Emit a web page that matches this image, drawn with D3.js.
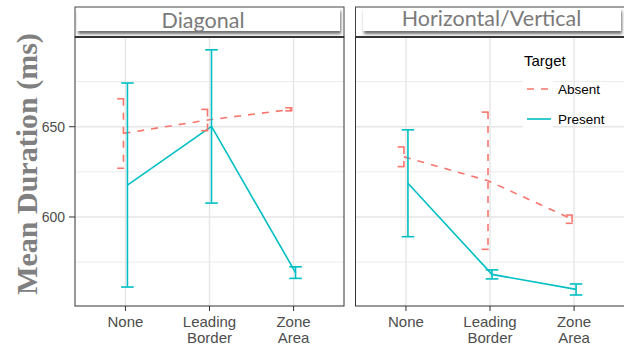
<!DOCTYPE html>
<html><head><meta charset="utf-8">
<script src="https://cdn.jsdelivr.net/npm/d3@7"></script>
<style>body{margin:0;background:#fff}svg{display:block}</style>
</head><body>
<script>
const panels = ["Diagonal", "Horizontal/Vertical"];
const categories = ["None", "Leading\nBorder", "Zone\nArea"];
const targets = ["Absent", "Present"];
// mean, lower, upper per panel per target
const diagAbsentMean = [646.3, 653.7, 659.6];
const diagAbsentLow = [627.0, 647.8, 658.8];
const diagAbsentHigh = [665.5, 659.6, 660.5];
const diagPresentMean = [617.7, 650.2, 569.2];
const diagPresentLow = [561.2, 607.7, 566.0];
const diagPresentHigh = [674.2, 692.6, 572.4];
const hvAbsentMean = [633.3, 620.1, 598.8];
const hvAbsentLow = [627.9, 582.1, 596.5];
const hvAbsentHigh = [638.8, 658.1, 601.1];
const hvPresentMean = [618.7, 568.2, 559.9];
const hvPresentLow = [589.1, 565.7, 556.8];
const hvPresentHigh = [648.3, 570.7, 562.9];
const yTicks = [600, 650];
const yMinor = [575, 625, 675];
const yDomain = [550.7, 699.7];

const series = [
  {panel: 0, target: "Absent", mean: diagAbsentMean, lo: diagAbsentLow, hi: diagAbsentHigh},
  {panel: 0, target: "Present", mean: diagPresentMean, lo: diagPresentLow, hi: diagPresentHigh},
  {panel: 1, target: "Absent", mean: hvAbsentMean, lo: hvAbsentLow, hi: hvAbsentHigh},
  {panel: 1, target: "Present", mean: hvPresentMean, lo: hvPresentLow, hi: hvPresentHigh}
];

const W = 624, H = 347;
const color = d3.scaleOrdinal().domain(targets).range(["#F8766D", "#00BFC4"]);
const dash = {Absent: "7,7", Present: null};
const dodge = d3.scalePoint().domain(targets).range([-2, 2]);

const svg = d3.select("body").append("svg").attr("width", W).attr("height", H);
const defs = svg.append("defs");
const f = defs.append("filter").attr("id", "sh").attr("x", "-10%").attr("y", "-30%").attr("width", "120%").attr("height", "170%");
f.append("feDropShadow").attr("dx", 1).attr("dy", 3).attr("stdDeviation", 1.6).attr("flood-color", "#555").attr("flood-opacity", 0.85);

const panelTop = 37, panelBottom = 306, panelW = 269;
const panelX = [75, 355.5];
const y = d3.scaleLinear().domain(yDomain).range([panelBottom, panelTop]);

const stripText = [{x: 203, y: 27.5}, {x: 491.5, y: 26}];
const stripInner = [[77, 340], [363, 621]];

panels.forEach((p, i) => {
  const x0 = panelX[i];
  const x = d3.scalePoint().domain(categories).range([x0, x0 + panelW]).padding(0.6);
  const g = svg.append("g");
  // background
  g.append("rect").attr("x", x0).attr("y", panelTop).attr("width", panelW).attr("height", panelBottom - panelTop).attr("fill", "#fff");
  // grid
  g.selectAll(".ymin").data(yMinor).join("line").attr("x1", x0).attr("x2", x0 + panelW)
    .attr("y1", d => y(d)).attr("y2", d => y(d)).attr("stroke", "#ebebeb").attr("stroke-width", 1);
  g.selectAll(".ymaj").data(yTicks).join("line").attr("x1", x0).attr("x2", x0 + panelW)
    .attr("y1", d => y(d)).attr("y2", d => y(d)).attr("stroke", "#e6e6e6").attr("stroke-width", 1.4);
  g.selectAll(".xmaj").data(categories).join("line").attr("x1", d => x(d)).attr("x2", d => x(d))
    .attr("y1", panelTop).attr("y2", panelBottom).attr("stroke", "#e6e6e6").attr("stroke-width", 1.4);

  // legend keys background (inside right panel)
  if (i === 1) {
    g.selectAll(".key").data(targets).join("rect").attr("x", 523).attr("y", (d, k) => 74 + k * 30)
      .attr("width", 30).attr("height", 30).attr("fill", "#fff");
  }

  // lines
  series.filter(s => s.panel === i).forEach(s => {
    const pts = categories.map((c, k) => [x(c) + dodge(s.target), y(s.mean[k])]);
    g.append("path").attr("d", d3.line()(pts)).attr("fill", "none")
      .attr("stroke", color(s.target)).attr("stroke-width", 1.6)
      .attr("stroke-dasharray", dash[s.target]);
  });
  // error bars
  series.filter(s => s.panel === i).forEach(s => {
    categories.forEach((c, k) => {
      const cx = x(c) + dodge(s.target), hw = 6.3;
      const segs = [
        [[cx - hw, y(s.hi[k])], [cx + hw, y(s.hi[k])]],
        [[cx, y(s.hi[k])], [cx, y(s.lo[k])]],
        [[cx - hw, y(s.lo[k])], [cx + hw, y(s.lo[k])]]
      ];
      segs.forEach(sg => g.append("path").attr("d", d3.line()(sg)).attr("fill", "none")
        .attr("stroke", color(s.target)).attr("stroke-width", 1.6)
        .attr("stroke-dasharray", dash[s.target]));
    });
  });

  // panel border
  g.append("rect").attr("x", x0).attr("y", panelTop).attr("width", panelW).attr("height", panelBottom - panelTop)
    .attr("fill", "none").attr("stroke", "#333").attr("stroke-width", 1);

  // strip
  const sg = svg.append("g");
  sg.append("rect").attr("x", x0).attr("y", 7).attr("width", panelW).attr("height", panelTop - 7)
    .attr("fill", "#fff").attr("stroke", "#444").attr("stroke-width", 1);
  const cid = "clip" + i;
  defs.append("clipPath").attr("id", cid).append("rect").attr("x", x0 + 0.5).attr("y", 7.5).attr("width", panelW - 1).attr("height", panelTop - 8);
  sg.append("rect").attr("clip-path", `url(#${cid})`).attr("x", stripInner[i][0]).attr("y", 8)
    .attr("width", stripInner[i][1] - stripInner[i][0]).attr("height", 23).attr("fill", "#fff")
    .attr("filter", "url(#sh)");
  sg.append("line").attr("x1", x0).attr("x2", x0 + panelW).attr("y1", panelTop).attr("y2", panelTop)
    .attr("stroke", "#333").attr("stroke-width", 1.8);
  sg.append("text").attr("x", stripText[i].x).attr("y", stripText[i].y).attr("text-anchor", "middle")
    .attr("font-family", "Lato, 'Open Sans', sans-serif").attr("font-size", 21.5).attr("fill", "#7a7a7a").text(p);

  // x axis
  const xa = svg.append("g");
  categories.forEach(c => {
    xa.append("line").attr("x1", x(c)).attr("x2", x(c)).attr("y1", panelBottom).attr("y2", panelBottom + 5)
      .attr("stroke", "#333").attr("stroke-width", 1);
    const t = xa.append("text").attr("text-anchor", "middle").attr("font-family", "'Liberation Sans', Arial, sans-serif")
      .attr("font-size", 15).attr("fill", "#4d4d4d");
    c.split("\n").forEach((ln, j) => t.append("tspan").attr("x", x(c)).attr("y", 327 + j * 16).text(ln));
  });
});

// y axis (left panel only)
const ya = svg.append("g");
yTicks.forEach(v => {
  ya.append("line").attr("x1", 69).attr("x2", 75).attr("y1", y(v)).attr("y2", y(v)).attr("stroke", "#333").attr("stroke-width", 1);
  ya.append("text").attr("x", 65).attr("y", y(v) + 5).attr("text-anchor", "end")
    .attr("font-family", "'Liberation Sans', Arial, sans-serif").attr("font-size", 14).attr("fill", "#4d4d4d").text(v);
});
svg.append("text").attr("transform", "translate(37,164) rotate(-90)").attr("text-anchor", "middle")
  .attr("font-family", "'Liberation Serif', 'Times New Roman', serif").attr("font-weight", "bold")
  .attr("font-size", 30).attr("fill", "#808080").text("Mean Duration (ms)");

// legend
const lg = svg.append("g");
lg.append("text").attr("x", 524).attr("y", 66).attr("font-family", "'Liberation Sans', Arial, sans-serif")
  .attr("font-size", 15).attr("fill", "#000").text("Target");
targets.forEach((t, k) => {
  const cy = 89 + k * 30;
  lg.append("line").attr("x1", 527).attr("x2", 551).attr("y1", cy).attr("y2", cy)
    .attr("stroke", color(t)).attr("stroke-width", 1.6).attr("stroke-dasharray", dash[t]);
  lg.append("text").attr("x", 558).attr("y", cy + 5).attr("font-family", "'Liberation Sans', Arial, sans-serif")
    .attr("font-size", 13.5).attr("fill", "#000").text(t);
});
</script>
</body></html>
